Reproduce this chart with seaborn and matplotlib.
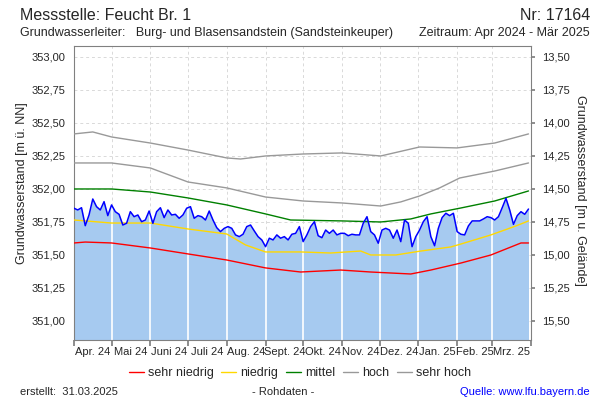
import matplotlib
matplotlib.use('Agg')
import matplotlib.pyplot as plt
from matplotlib.lines import Line2D
import numpy as np
import pandas as pd
import seaborn as sns

sns.set_theme(style='white')
plt.rcParams['font.family'] = ['Liberation Sans', 'DejaVu Sans']

start = pd.Timestamp('2024-04-01')
monate = ['Apr. 24', 'Mai 24', 'Juni 24', 'Juli 24', 'Aug. 24', 'Sept. 24',
          'Okt. 24', 'Nov. 24', 'Dez. 24', 'Jan. 25', 'Feb. 25', 'Mrz. 25']

# Messwerte alle 3 Tage ab 01.04.2024 (m ü. NN)
messwert = [351.854, 351.841, 351.858, 351.722, 351.803, 351.924, 351.866, 351.841,
            351.904, 351.798, 351.879, 351.828, 351.808, 351.727, 351.740, 351.828,
            351.790, 351.803, 351.752, 351.765, 351.833, 351.740, 351.828, 351.858,
            351.783, 351.841, 351.803, 351.808, 351.778, 351.803, 351.854, 351.866,
            351.778, 351.798, 351.790, 351.765, 351.833, 351.765, 351.707, 351.677,
            351.702, 351.715, 351.702, 351.652, 351.639, 351.657, 351.715, 351.727,
            351.682, 351.639, 351.614, 351.563, 351.627, 351.614, 351.652, 351.627,
            351.639, 351.614, 351.657, 351.664, 351.715, 351.601, 351.652, 351.715,
            351.752, 351.646, 351.631, 351.689, 351.664, 351.689, 351.652, 351.664,
            351.664, 351.646, 351.657, 351.652, 351.652, 351.740, 351.790, 351.677,
            351.652, 351.589, 351.689, 351.702, 351.689, 351.627, 351.689, 351.601,
            351.765, 351.740, 351.563, 351.639, 351.689, 351.752, 351.790, 351.639,
            351.570, 351.702, 351.783, 351.816, 351.798, 351.816, 351.677, 351.657,
            351.652, 351.720, 351.758, 351.758, 351.758, 351.773, 351.790, 351.783,
            351.765, 351.790, 351.858, 351.929, 351.841, 351.732, 351.798, 351.828,
            351.808, 351.848]

# Bezugslinien (Tag ab 01.04.2024, Wert m ü. NN)
sehr_hoch_tag = [0, 15, 30, 61, 91, 122, 133, 153, 183, 214, 245, 276, 306, 336, 363]
sehr_hoch = [352.417, 352.432, 352.394, 352.348, 352.295, 352.235, 352.227, 352.250,
             352.265, 352.273, 352.250, 352.318, 352.311, 352.348, 352.417]
hoch_tag = [0, 30, 61, 91, 122, 153, 183, 214, 245, 261, 276, 292, 308, 336, 363]
hoch = [352.197, 352.197, 352.159, 352.053, 352.008, 351.939, 351.909, 351.894,
        351.871, 351.902, 351.947, 352.008, 352.083, 352.136, 352.197]
mittel_tag = [0, 30, 61, 91, 122, 153, 173, 214, 245, 269, 285, 309, 336, 363]
mittel = [352.000, 352.000, 351.977, 351.932, 351.879, 351.811, 351.765, 351.758,
          351.750, 351.773, 351.811, 351.856, 351.909, 351.985]
niedrig_tag = [0, 30, 61, 91, 122, 137, 153, 181, 205, 229, 237, 257, 277, 301, 309,
               333, 353, 363]
niedrig = [351.765, 351.742, 351.742, 351.697, 351.659, 351.576, 351.523, 351.523,
           351.515, 351.530, 351.500, 351.500, 351.530, 351.561, 351.583, 351.652,
           351.720, 351.758]
sehr_niedrig_tag = [0, 9, 30, 61, 91, 122, 153, 181, 213, 237, 269, 285, 309, 333, 357, 363]
sehr_niedrig = [351.591, 351.598, 351.591, 351.553, 351.508, 351.462, 351.402, 351.371,
                351.386, 351.371, 351.356, 351.386, 351.439, 351.500, 351.591, 351.591]

gelaende = 366.50
ymin, ymax = 350.856, 353.083

mess_datum = pd.date_range(start, periods=len(messwert), freq='3D')
monat_start = pd.date_range(start, periods=13, freq='MS')
monat_mitte = monat_start[:-1] + (monat_start[1:] - monat_start[:-1]) / 2

fig = plt.figure(figsize=(6, 4), dpi=100)
ax = fig.add_axes([74 / 600, 60 / 400, 457 / 600, 294 / 400])
ax.set_facecolor('white')

# grid
for y in np.arange(351.0, 353.01, 0.25):
    ax.axhline(y, color='#d9d9d9', lw=0.7, ls=(0, (3, 3)), zorder=0.5)
for d in monat_start[1:-1]:
    ax.axvline(d, color='#d9d9d9', lw=0.7, ls=(0, (3, 3)), zorder=0.5)

fill = ax.fill_between(mess_datum, messwert, ymin, color='#a6caf0', lw=0, zorder=1)
vl = ax.vlines(monat_start[1:-1], ymin, ymax, color='white', lw=1.2, zorder=1.5)
vl.set_clip_path(fill.get_paths()[0], transform=ax.transData)

linien = [
    ('sehr niedrig', sehr_niedrig_tag, sehr_niedrig, '#ff0000'),
    ('niedrig', niedrig_tag, niedrig, '#ffd800'),
    ('mittel', mittel_tag, mittel, '#008000'),
    ('hoch', hoch_tag, hoch, '#999999'),
    ('sehr hoch', sehr_hoch_tag, sehr_hoch, '#999999'),
]
handles = []
for name, tage, werte, farbe in linien:
    datum = start + pd.to_timedelta(tage, unit='D')
    sns.lineplot(x=datum, y=werte, ax=ax, color=farbe, lw=1.0, zorder=3)
    handles.append(Line2D([], [], color=farbe, lw=1.0, label=name))

sns.lineplot(x=mess_datum, y=messwert, ax=ax, color='#0000ff', lw=1.1, zorder=4)

ax.set_xlim(monat_start[0], monat_start[-1])
ax.set_ylim(ymin, ymax)
ax.set_xlabel('')
ax.set_ylabel('')

ax.set_yticks(np.arange(351.0, 353.01, 0.25))
ax.set_yticklabels([f'{v:.2f}'.replace('.', ',') for v in np.arange(351.0, 353.01, 0.25)],
                   fontsize=8)
ax.tick_params(axis='y', length=0, pad=6)
ax.set_xticks(monat_start)
ax.set_xticklabels([])
ax.set_xticks(monat_mitte, minor=True)
ax.set_xticklabels(monate, minor=True, fontsize=8)
ax.tick_params(axis='x', which='major', length=4, color='#808080', direction='out', bottom=True)
ax.tick_params(axis='x', which='minor', length=0, pad=5)

for s in ax.spines.values():
    s.set_color('#808080')
    s.set_linewidth(0.8)

ax2 = ax.twinx()
ax2.set_ylim(gelaende - ymin, gelaende - ymax)
rt = np.arange(13.5, 15.51, 0.25)
ax2.set_yticks(rt)
ax2.set_yticklabels([f'{v:.2f}'.replace('.', ',') for v in rt], fontsize=8)
ax2.tick_params(axis='y', length=3, color='#808080', pad=5, right=True, direction='out')
for s in ax2.spines.values():
    s.set_visible(False)

fig.text(22 / 600, 1 - 183 / 400, 'Grundwasserstand [m ü. NN]', rotation=90,
         ha='center', va='center', fontsize=9)
fig.text(580 / 600, 1 - 190 / 400, 'Grundwasserstand [m u. Gelände]', rotation=270,
         ha='center', va='center', fontsize=9)

fig.text(20 / 600, 1 - 15 / 400, 'Messstelle: Feucht Br. 1', ha='left', va='center',
         fontsize=11.5)
fig.text(590 / 600, 1 - 15 / 400, 'Nr: 17164', ha='right', va='center', fontsize=11.5)
fig.text(20 / 600, 1 - 33 / 400,
         'Grundwasserleiter:   Burg- und Blasensandstein (Sandsteinkeuper)',
         ha='left', va='center', fontsize=9)
fig.text(590 / 600, 1 - 33 / 400, 'Zeitraum: Apr 2024 - Mär 2025', ha='right',
         va='center', fontsize=9)

fig.legend(handles=handles, loc='center', bbox_to_anchor=(300 / 600, 1 - 373 / 400),
           ncol=5, frameon=False, fontsize=9, handlelength=1.2, handletextpad=0.35,
           columnspacing=0.6)

fig.text(20 / 600, 1 - 392 / 400, 'erstellt:  31.03.2025', ha='left', va='center',
         fontsize=8)
fig.text(283 / 600, 1 - 392 / 400, '- Rohdaten -', ha='center', va='center', fontsize=8)
fig.text(590 / 600, 1 - 392 / 400, 'Quelle: www.lfu.bayern.de', ha='right', va='center',
         fontsize=8, color='#0000ff')

fig.savefig('out.png', dpi=100)
